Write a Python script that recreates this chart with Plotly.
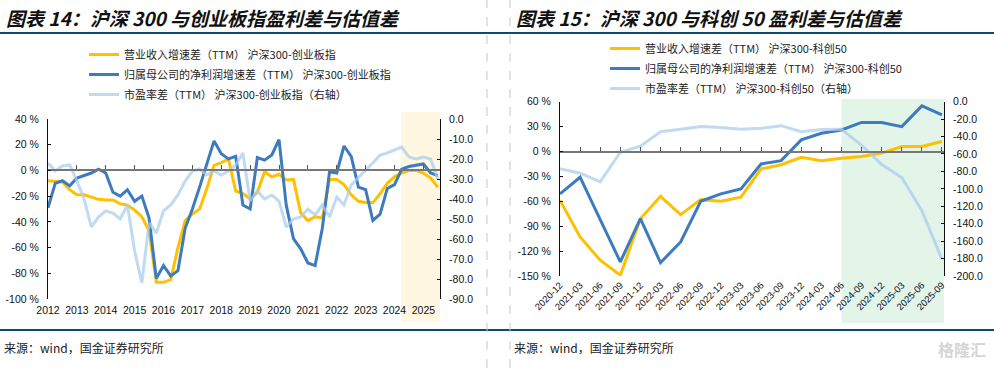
import plotly.graph_objects as go

# ---------------- Left chart: 沪深300 vs 创业板指 (quarterly, 2012Q1 - 2025Q3) ----------------
cyb_year_labels = ["2012", "2013", "2014", "2015", "2016", "2017", "2018",
                   "2019", "2020", "2021", "2022", "2023", "2024", "2025"]

cyb_rev_diff = [-8, -8.5, -9, -15, -19, -19, -21, -22.5, -23, -23, -26, -27, -31, -36,
                -47, -87, -87, -85, -60, -39, -34, -30, -14, 4, 6, 9, -16, -18, -22,
                -17, -1, -5, -3, -7.5, -7, -33, -39, -36, -37, -7, -7, -11, -19, -24,
                -25, -25, -18, -10, -5, -2, 0, 0, -2, -6, -13]

cyb_np_diff = [-29, -10, -8, -12, -6, -4, -2, 1, -2, -17, -20, -15, -24, -20, -37,
               -84, -74, -82, -78, -45, -30, -13, 5, 23, 13, 9, 11, -27, -30, 10, 8,
               12, 24, -27, -53, -61, -72, -74, -45, -1, -2, 19, 11, -13, -15, -39,
               -34, -14, -11, 1, 3, 4, 5, -2, -4]

cyb_pe_diff = [-22, -26, -23.5, -23, -31, -40, -54, -49, -46, -47, -50, -43, -66, -82,
               -52, -57, -46, -43, -38, -31, -26, -25, -28, -26, -28, -26, -23, -17,
               -41, -36, -40, -38, -41, -54, -50, -49, -45, -48, -43, -49, -39, -43,
               -33, -29, -25.5, -22, -18, -17, -15.5, -14, -19, -20, -19, -20, -30]

cyb_pct_ticks = [40, 20, 0, -20, -40, -60, -80, -100]
cyb_pe_ticks = [0, -10, -20, -30, -40, -50, -60, -70, -80, -90]

# ---------------- Right chart: 沪深300 vs 科创50 ----------------
kc_quarters = ["2020-12", "2021-03", "2021-06", "2021-09", "2021-12", "2022-03",
               "2022-06", "2022-09", "2022-12", "2023-03", "2023-06", "2023-09",
               "2023-12", "2024-03", "2024-06", "2024-09", "2024-12", "2025-03",
               "2025-06", "2025-09"]

kc_rev_diff = [-59, -103, -131, -149, -81, -54, -76, -58, -60, -55, -21, -16, -7, -11,
               -8, -6, -2, 6, 6, 12]
kc_np_diff = [-51, -31, -82, -133, -81, -134, -109, -60, -51, -45, -15, -11, 14, 22,
              26, 35, 35, 30, 55, 44]
kc_pe_diff = [-77, -82, -92, -58, -51, -34.5, -31.5, -28.5, -29.5, -31.5, -30.5, -27.5,
              -34.5, -32, -31.5, -50, -72, -87, -125, -181]

kc_pct_ticks = [60, 30, 0, -30, -60, -90, -120, -150]
kc_pe_ticks = [0, -20, -40, -60, -80, -100, -120, -140, -160, -180, -200]

# ---------------- styling ----------------
W, H = 994, 368
YELLOW = "#FFC000"
BLUE = "#3D7BBF"
LIGHT = "rgba(168,204,236,0.72)"
AXFONT = dict(family="Liberation Sans, Arial, sans-serif", size=10.5, color="#111")
CJK = "Noto Sans CJK SC, sans-serif"


def px_x(p):
    return p / W


def px_y(p):
    return 1 - p / H


xL = [px_x(48), px_x(440)]
yL = [px_y(299), px_y(119)]
xR = [px_x(560), px_x(944)]
yR = [px_y(276), px_y(101.7)]

cyb_range = [-100, 40]
kc_range = [-150, 60]
cyb_xrange = [0, len(cyb_rev_diff) - 1 + 0.3]
kc_xrange = [0, len(kc_rev_diff) - 1 + 0.1]


def zero_pos(dom, rng):
    return dom[0] + (0 - rng[0]) / (rng[1] - rng[0]) * (dom[1] - dom[0])


fig = go.Figure()

xl = list(range(len(cyb_rev_diff)))
left_series = [
    (cyb_rev_diff, "y", "营业收入增速差（TTM） 沪深300-创业板指", YELLOW),
    (cyb_np_diff, "y", "归属母公司的净利润增速差（TTM） 沪深300-创业板指", BLUE),
    (cyb_pe_diff, "y2", "市盈率差（TTM） 沪深300-创业板指（右轴）", LIGHT),
]
for k, (vals, ya, nm, col) in enumerate(left_series):
    fig.add_trace(go.Scatter(x=xl, y=vals, xaxis="x", yaxis=ya, mode="lines", name=nm,
                             line=dict(color=col, width=3), legend="legend",
                             legendgroup=f"L{k}", hoverinfo="skip"))

xr = list(range(len(kc_rev_diff)))
right_series = [
    (kc_rev_diff, "y3", "营业收入增速差（TTM） 沪深300-科创50", YELLOW),
    (kc_np_diff, "y3", "归属母公司的净利润增速差（TTM） 沪深300-科创50", BLUE),
    (kc_pe_diff, "y4", "市盈率差（TTM） 沪深300-科创50（右轴）", LIGHT),
]
for k, (vals, ya, nm, col) in enumerate(right_series):
    fig.add_trace(go.Scatter(x=xr, y=vals, xaxis="x2", yaxis=ya, mode="lines", name=nm,
                             line=dict(color=col, width=3), legend="legend2",
                             legendgroup=f"R{k}", hoverinfo="skip"))

# invisible helpers so the zero-line axes get drawn
fig.add_trace(go.Scatter(x=[0], y=[0], xaxis="x3", yaxis="y", mode="markers",
                         marker=dict(opacity=0), showlegend=False, hoverinfo="skip"))
fig.add_trace(go.Scatter(x=[0], y=[0], xaxis="x4", yaxis="y3", mode="markers",
                         marker=dict(opacity=0), showlegend=False, hoverinfo="skip"))

common_y = dict(showgrid=False, zeroline=False, showline=True, linecolor="#111",
                linewidth=1, ticks="inside", ticklen=3, tickcolor="#111", tickfont=AXFONT,
                ticklabelstandoff=6, fixedrange=True, automargin=False)
zero_ax = dict(showgrid=False, zeroline=False, showline=True, linecolor="#777",
               linewidth=2, ticks="inside", ticklen=4, tickcolor="#555", tickwidth=1,
               showticklabels=False, anchor="free", side="bottom", automargin=False)

legend_common = dict(xanchor="left", yanchor="top", bgcolor="rgba(0,0,0,0)",
                     font=dict(family=CJK, size=11, color="#222"),
                     tracegroupgap=1, itemwidth=30)

fig.update_layout(
    width=W, height=H, margin=dict(l=0, r=0, t=0, b=0, autoexpand=False),
    paper_bgcolor="white", plot_bgcolor="rgba(0,0,0,0)",
    xaxis=dict(domain=xL, range=cyb_xrange, anchor="y", showgrid=False, zeroline=False,
               showline=False, ticks="", tickvals=list(range(0, len(cyb_rev_diff), 4)),
               ticktext=cyb_year_labels, tickfont=AXFONT, ticklabelstandoff=3,
               automargin=False),
    yaxis=dict(domain=yL, range=cyb_range, anchor="x", tickvals=cyb_pct_ticks,
               ticktext=[f"{v} %" for v in cyb_pct_ticks], **common_y),
    yaxis2=dict(overlaying="y", side="right", anchor="x", range=[-90, 0],
                tickvals=cyb_pe_ticks, ticktext=[f"{v:.1f}" for v in cyb_pe_ticks], **common_y),
    xaxis3=dict(overlaying="x", range=cyb_xrange, position=zero_pos(yL, cyb_range),
                tickvals=list(range(4, len(cyb_rev_diff), 4)), **zero_ax),
    xaxis2=dict(domain=xR, range=kc_xrange, anchor="y3", showgrid=False, zeroline=False,
                showline=False, ticks="", tickvals=xr, ticktext=kc_quarters, tickangle=-45,
                tickfont=dict(family="Liberation Sans, Arial, sans-serif", size=9.5, color="#111"),
                ticklabelstandoff=1, automargin=False),
    yaxis3=dict(domain=yR, range=kc_range, anchor="x2", tickvals=kc_pct_ticks,
                ticktext=[f"{v} %" for v in kc_pct_ticks], **common_y),
    yaxis4=dict(overlaying="y3", side="right", anchor="x2", range=[-200, 0],
                tickvals=kc_pe_ticks, ticktext=[f"{v:.1f}" for v in kc_pe_ticks], **common_y),
    xaxis4=dict(overlaying="x2", range=kc_xrange, position=zero_pos(yR, kc_range),
                tickvals=xr[1:], **zero_ax),
    legend=dict(x=px_x(84), y=px_y(40), **legend_common),
    legend2=dict(x=px_x(605), y=px_y(34), **legend_common),
    showlegend=True,
)

shapes = [
    dict(type="rect", xref="x", yref="paper", x0=48.9, x1=cyb_xrange[1],
         y0=px_y(322), y1=px_y(112), fillcolor="#FFF7E2", line=dict(width=0), layer="below"),
    dict(type="rect", xref="x2", yref="paper", x0=14, x1=kc_xrange[1],
         y0=px_y(323), y1=px_y(99), fillcolor="#E3F4E9", line=dict(width=0), layer="below"),
    dict(type="line", xref="paper", yref="paper", x0=0, x1=1, y0=px_y(33), y1=px_y(33),
         line=dict(color="#0E4A6B", width=2)),
    dict(type="line", xref="paper", yref="paper", x0=0, x1=1, y0=px_y(330), y1=px_y(330),
         line=dict(color="#0E4A6B", width=2)),
    dict(type="line", xref="paper", yref="paper", x0=px_x(487), x1=px_x(487), y0=0, y1=1,
         line=dict(color="#C8C8C8", width=1, dash="dash")),
    dict(type="line", xref="paper", yref="paper", x0=px_x(510), x1=px_x(510), y0=0, y1=1,
         line=dict(color="#C8C8C8", width=1, dash="dash")),
]
fig.update_layout(shapes=shapes)

annotations = [
    dict(text="<b><i>图表 14：沪深 300 与创业板指盈利差与估值差</i></b>", x=px_x(4), y=px_y(17),
         xref="paper", yref="paper", xanchor="left", yanchor="middle", showarrow=False,
         font=dict(family=CJK, size=19, color="#111")),
    dict(text="<b><i>图表 15：沪深 300 与科创 50 盈利差与估值差</i></b>", x=px_x(514), y=px_y(17),
         xref="paper", yref="paper", xanchor="left", yanchor="middle", showarrow=False,
         font=dict(family=CJK, size=19, color="#111")),
    dict(text="来源：wind，国金证券研究所", x=px_x(2), y=px_y(347), xref="paper", yref="paper",
         xanchor="left", yanchor="middle", showarrow=False,
         font=dict(family=CJK, size=12, color="#222")),
    dict(text="来源：wind，国金证券研究所", x=px_x(512), y=px_y(347), xref="paper", yref="paper",
         xanchor="left", yanchor="middle", showarrow=False,
         font=dict(family=CJK, size=12, color="#222")),
    dict(text="<b>格隆汇</b>", x=px_x(988), y=px_y(349), xref="paper", yref="paper",
         xanchor="right", yanchor="middle", showarrow=False,
         font=dict(family=CJK, size=16, color="#D5D5D5")),
]
fig.update_layout(annotations=annotations)

fig.write_html("out.html", config={"displayModeBar": False},
               post_script="document.body.style.margin='0px';")
